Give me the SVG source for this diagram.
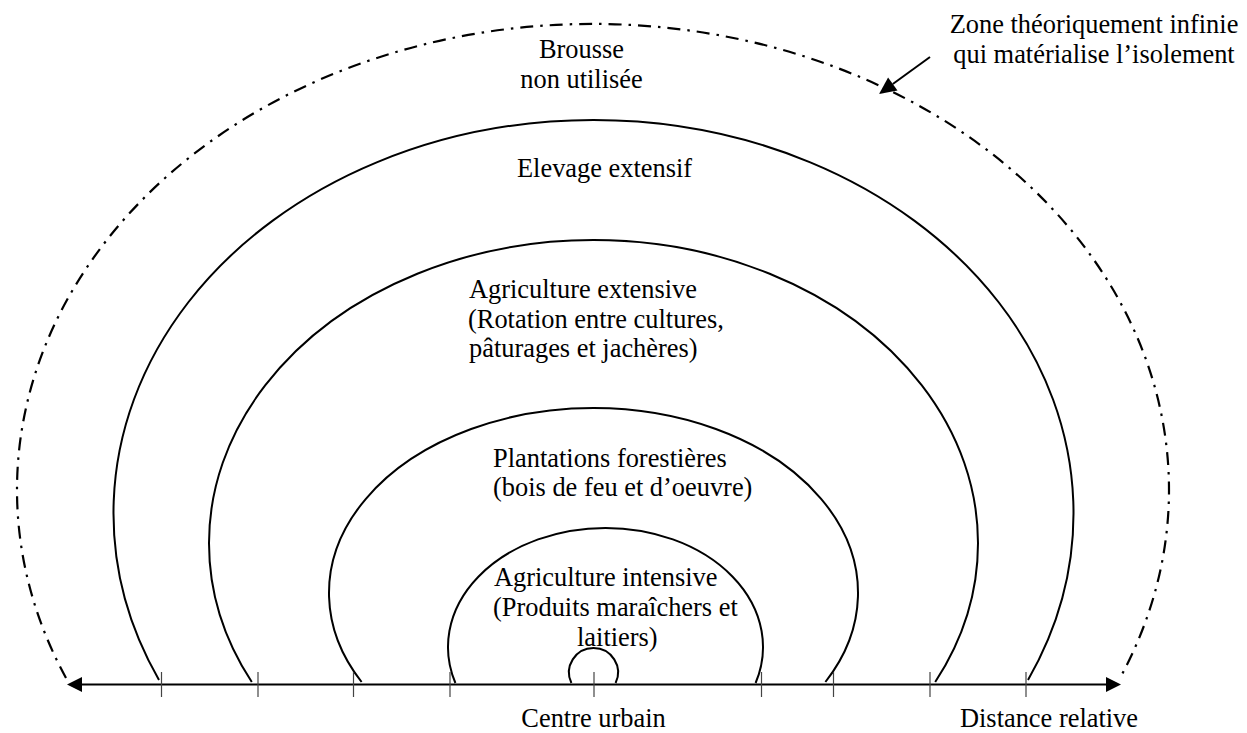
<svg xmlns="http://www.w3.org/2000/svg" width="1247" height="733" viewBox="0 0 1247 733">
<style>
  .zone { fill: none; stroke: #000; stroke-width: 2; }
  .outer { fill: none; stroke: #000; stroke-width: 2.2; stroke-dasharray: 13 7 2.5 7; }
  .lbl { font-family: "Liberation Serif", "Times New Roman", serif; font-size: 26.4px; fill: #000; }
  .mid { text-anchor: middle; }
  .tick { stroke: #444; stroke-width: 1.2; }
  .conn { fill: none; stroke: #000; stroke-width: 2; }
</style>
<defs>
  <marker id="head" markerUnits="userSpaceOnUse" markerWidth="16" markerHeight="16" refX="0" refY="7.5" orient="auto-start-reverse" overflow="visible">
    <path d="M0,0 L15,7.5 L0,15 z" fill="#000"/>
  </marker>
  <marker id="head2" markerUnits="userSpaceOnUse" markerWidth="18" markerHeight="18" refX="0" refY="8" orient="auto" overflow="visible">
    <path d="M0,0 L17,8 L0,16 z" fill="#000"/>
  </marker>
</defs>
<rect width="1247" height="733" fill="#fff"/>

<g id="brousse">
  <path class="outer" d="M66,678 A576,466 0 1 1 1120,678"/>
  <text class="lbl mid" x="581.5" y="58">Brousse</text>
  <text class="lbl mid" x="581.5" y="88">non utilisée</text>
</g>

<g id="elevage">
  <path class="zone" d="M159,680 A480,393 0 1 1 1028,680"/>
  <text class="lbl" x="517" y="177">Elevage extensif</text>
</g>

<g id="agri-extensive">
  <path class="zone" d="M251.8,682 A384.5,303 0 1 1 935.2,682"/>
  <text class="lbl" x="469" y="298">Agriculture extensive</text>
  <text class="lbl" x="468" y="328">(Rotation entre cultures,</text>
  <text class="lbl" x="469" y="357">pâturages et jachères)</text>
</g>

<g id="plantations">
  <path class="zone" d="M361.6,682 A264.5,185 0 1 1 825.4,682"/>
  <text class="lbl" x="493" y="467">Plantations forestières</text>
  <text class="lbl" x="493" y="496">(bois de feu et d’oeuvre)</text>
</g>

<g id="agri-intensive">
  <path class="zone" d="M455.4,683 A157.5,119 0 1 1 755.6,683"/>
  <text class="lbl" x="494" y="586">Agriculture intensive</text>
  <text class="lbl" x="493" y="616">(Produits maraîchers et</text>
  <text class="lbl" x="577" y="646">laitiers)</text>
</g>

<g id="centre">
  <path class="zone" d="M571.4,683 A24.5,24.5 0 1 1 615.6,683"/>
  <text class="lbl mid" x="593.5" y="727">Centre urbain</text>
</g>

<g id="distance-label">
  <text class="lbl mid" x="1049" y="727">Distance relative</text>
</g>

<g id="zone-label">
  <text class="lbl mid" x="1094" y="33">Zone théoriquement infinie</text>
  <text class="lbl mid" x="1094" y="62.5">qui matérialise l’isolement</text>
</g>

<g id="connectors">
  <path class="conn" d="M82,684.5 L1106,684.5" marker-start="url(#head)" marker-end="url(#head)"/>
  <path class="conn" d="M930,57 L892.8,84" marker-end="url(#head2)"/>
  <g id="ticks">
    <line class="tick" x1="161.5" y1="672" x2="161.5" y2="697"/>
    <line class="tick" x1="258" y1="672" x2="258" y2="697"/>
    <line class="tick" x1="353.5" y1="672" x2="353.5" y2="697"/>
    <line class="tick" x1="450" y1="672" x2="450" y2="697"/>
    <line class="tick" x1="594" y1="672" x2="594" y2="697"/>
    <line class="tick" x1="761.5" y1="672" x2="761.5" y2="697"/>
    <line class="tick" x1="833.5" y1="672" x2="833.5" y2="697"/>
    <line class="tick" x1="930" y1="672" x2="930" y2="697"/>
    <line class="tick" x1="1026" y1="672" x2="1026" y2="697"/>
  </g>
</g>
</svg>
